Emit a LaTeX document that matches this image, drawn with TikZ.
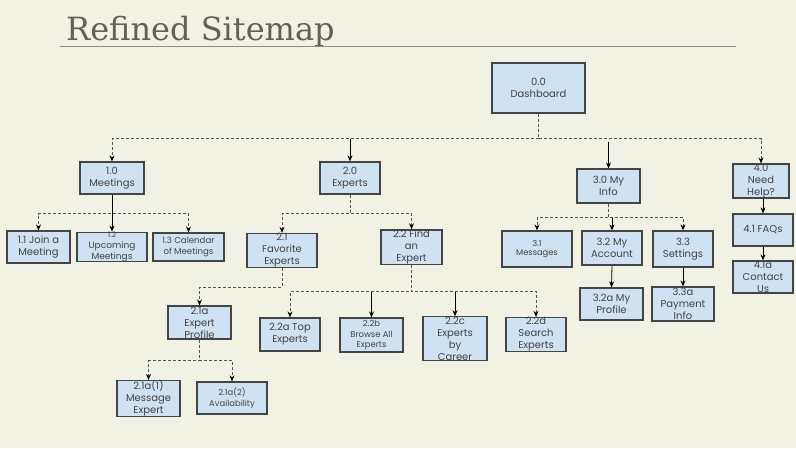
\documentclass[tikz,border=0pt]{standalone}
\usepackage{fontspec}
\setmainfont{Poppins}
\newfontfamily\titlefont{DejaVu Serif}
\usetikzlibrary{calc,arrows.meta}
\definecolor{bg}{HTML}{F2F2E4}
\definecolor{boxfill}{HTML}{CFE2F3}
\definecolor{boxline}{HTML}{444444}
\definecolor{txt}{HTML}{434343}
\definecolor{dashcol}{HTML}{555555}
\definecolor{titlecol}{HTML}{665F55}
\definecolor{rulecol}{HTML}{8C8C84}
\begin{document}
\begin{tikzpicture}[x=1pt,y=-1pt,
  box/.style={draw=boxline, fill=boxfill, line width=1.2pt, inner sep=0pt, align=center, text=txt, font=\fontsize{10}{12}\selectfont},
  elbow/.style={draw=dashcol, dash pattern=on 3pt off 2pt, line width=0.9pt, -{Stealth[length=6pt,width=5pt,color=black]}},
  arr/.style={draw=black, line width=0.8pt, -{Stealth[length=6pt,width=5pt]}}]
\fill[bg] (0,0) rectangle (796,448);
\useasboundingbox (0,0) rectangle (796,448);
% title
\node[anchor=base west, font=\titlefont\fontsize{32}{33}\selectfont, text=titlecol, inner sep=0pt] (title) at (66,40) {Refined Sitemap};
\draw[rulecol, line width=1pt] (60,46) -- (736,46);
% level 0
\node[box, minimum width=93pt, minimum height=50pt, font=\fontsize{10}{12.5}\selectfont] (dash) at (538.5,88) {0.0\\Dashboard};
% level 1
\node[box, minimum width=64pt, minimum height=32pt] (m10) at (112,178) {1.0\\Meetings};
\node[box, minimum width=60pt, minimum height=32pt] (e20) at (350,178) {2.0\\Experts};
\node[box, minimum width=63pt, minimum height=34pt] (i30) at (608.5,186) {3.0 My\\Info};
\node[box, minimum width=56pt, minimum height=34pt] (h40) at (761,181) {4.0\\Need\\Help?};
% meetings children
\node[box, minimum width=63pt, minimum height=32pt] (m11) at (38.5,247) {1.1 Join a\\Meeting};
\node[box, minimum width=70pt, minimum height=28pt, font=\fontsize{9}{10.8}\selectfont] (m12) at (112,247) {{\fontsize{7.5}{8}\selectfont 1.2}\\Upcoming\\Meetings};
\node[box, minimum width=71pt, minimum height=28pt, font=\fontsize{8.6}{11}\selectfont] (m13) at (188.5,247) {1.3 Calendar\\of Meetings};
% experts children
\node[box, minimum width=70pt, minimum height=33pt] (e21) at (282,250.5) {2.1\\Favorite\\Experts};
\node[box, minimum width=61pt, minimum height=34pt] (e22) at (411.5,247) {2.2 Find\\an\\Expert};
\node[box, minimum width=63pt, minimum height=33pt] (e21a) at (199.5,322.5) {2.1a\\Expert\\Profile};
\node[box, minimum width=63pt, minimum height=33pt] (e21a1) at (148.5,398.5) {2.1a(1)\\Message\\Expert};
\node[box, minimum width=70pt, minimum height=32pt, font=\fontsize{8.4}{11}\selectfont] (e21a2) at (232,398) {2.1a(2)\\Availability};
\node[box, minimum width=60pt, minimum height=33pt] (e22a) at (290,334.5) {2.2a Top\\Experts};
\node[box, minimum width=63pt, minimum height=34pt, font=\fontsize{8.4}{10.3}\selectfont] (e22b) at (371.5,335) {2.2b\\Browse All\\Experts};
\node[box, minimum width=64pt, minimum height=41pt] (e22c) at (455,338.5) {2.2c\\Experts\\by\\Career};
\node[box, minimum width=60pt, minimum height=33pt] (e22d) at (536,334.5) {2.2d\\Search\\Experts};
% my info children
\node[box, minimum width=70pt, minimum height=36pt, font=\fontsize{8.3}{9.5}\selectfont] (i31) at (537,249) {3.1\\Messages};
\node[box, minimum width=60pt, minimum height=34pt] (i32) at (612,248) {3.2 My\\Account};
\node[box, minimum width=60pt, minimum height=36pt] (i33) at (683,249) {3.3\\Settings};
\node[box, minimum width=63pt, minimum height=32pt] (i32a) at (611.5,304) {3.2a My\\Profile};
\node[box, minimum width=62pt, minimum height=34pt] (i33a) at (683,304) {3.3a\\Payment\\Info};
% need help children
\node[box, minimum width=60pt, minimum height=32pt] (h41) at (763,230) {4.1 FAQs};
\node[box, minimum width=60pt, minimum height=32pt] (h41a) at (763,277) {4.1a\\Contact\\Us};
% connectors: dashboard
\draw[elbow] (dash.south) -- ++(0,25) -| (m10.north);
\draw[elbow] (dash.south) -- ++(0,25) -| (h40.north);
\coordinate (bus0) at ($(dash.south)+(0,25)$);
\draw[arr] (bus0 -| e20.north) -- (e20.north);
\coordinate (s30) at ($(i30.north)+(0,-26)$);
\draw[arr] (s30) -- (i30.north);
% meetings
\draw[elbow] (m10.south) -- ++(0,19) -| (m11.north);
\draw[elbow] (m10.south) -- ++(0,19) -| (m13.north);
\draw[arr] (m10.south) -- (m12.north);
% experts
\draw[elbow] (e20.south) -- ++(0,19) -| (e21.north);
\draw[elbow] (e20.south) -- ++(0,19) -| (e22.north);
\draw[elbow] (e21.south) -- ++(0,19) -| (e21a.north);
\draw[elbow] (e21a.south) -- ++(0,21) -| (e21a1.north);
\draw[elbow] (e21a.south) -- ++(0,21) -| (e21a2.north);
\draw[elbow] (e22.south) -- ++(0,27) -| (e22a.north);
\draw[elbow] (e22.south) -- ++(0,27) -| (e22d.north);
\coordinate (bus22) at ($(e22.south)+(0,27)$);
\draw[arr] (bus22 -| e22b.north) -- (e22b.north);
\draw[arr] (bus22 -| e22c.north) -- (e22c.north);
% my info
\draw[elbow] (i30.south) -- ++(0,14) -| (i31.north);
\draw[elbow] (i30.south) -- ++(0,14) -| (i33.north);
\coordinate (bus30) at ($(i30.south)+(0,14)$);
\draw[arr] (bus30 -| i32.north) -- (i32.north);
\draw[arr] (i32.south) -- (i32a.north);
\draw[arr] (i33.south) -- (i33a.north);
% need help
\draw[arr] (h40.south -| h41.north) -- (h41.north);
\draw[arr] (h41.south) -- (h41a.north);
\end{tikzpicture}
\end{document}
